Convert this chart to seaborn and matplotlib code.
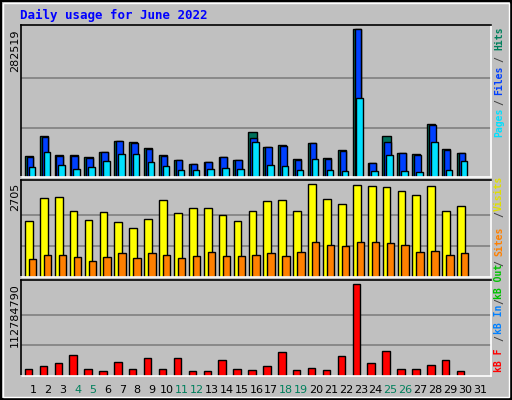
import numpy as np
import pandas as pd
import matplotlib
matplotlib.use("Agg")
import matplotlib.pyplot as plt
import seaborn as sns
from matplotlib.patches import Rectangle

sns.set_style("white")
plt.rcParams['font.family'] = ['DejaVu Sans Mono', 'DejaVu Sans']

days = list(range(1, 31))
day_labels = [str(d) for d in range(1, 32)]
weekend_days = [4, 5, 11, 12, 18, 19, 25, 26]

hits = [40900, 77340, 42830, 42830, 38990, 48580, 69670, 67750, 56250, 42830,
        33240, 25570, 29400, 38990, 33240, 85010, 58170, 62000, 35160, 65840,
        37070, 52410, 282519, 27490, 77340, 46660, 44740, 100350, 54330, 46660]
files = [38350, 75420, 40910, 40910, 37070, 48580, 69670, 65840, 54330, 40910,
         33240, 25570, 29400, 38990, 33240, 73510, 58170, 60080, 33240, 65840,
         35160, 50500, 282519, 27490, 67750, 46660, 42830, 98440, 52410, 46660]
pages = [19820, 48580, 23650, 15980, 19820, 31320, 44740, 44740, 29400, 21730,
         14060, 14060, 15980, 17900, 15980, 67750, 23650, 21730, 14060, 35160,
         14060, 12140, 150210, 12140, 42830, 12140, 10230, 67750, 14060, 31320]
visits = [1621, 2295, 2324, 1914, 1650, 1885, 1592, 1416, 1680, 2236,
          1855, 2002, 2002, 1797, 1621, 1914, 2207, 2236, 1914, 2705,
          2266, 2119, 2676, 2646, 2617, 2500, 2383, 2646, 1914, 2060]
sites = [537, 654, 654, 596, 478, 596, 684, 566, 684, 654,
         566, 625, 713, 625, 625, 654, 684, 625, 713, 1006,
         918, 889, 1006, 1006, 977, 918, 713, 742, 654, 684]
kbytes = [9.06e6, 12.76e6, 16.46e6, 26.34e6, 9.06e6, 6.59e6, 17.70e6, 9.06e6, 22.64e6, 9.06e6,
          22.64e6, 6.59e6, 6.59e6, 20.17e6, 9.06e6, 7.82e6, 12.76e6, 28.81e6, 7.82e6, 10.29e6,
          7.82e6, 25.11e6, 112784790, 16.46e6, 30.05e6, 9.06e6, 9.06e6, 14.00e6, 20.17e6, 6.59e6]

BG = "#c0c0c0"
fig = plt.figure(figsize=(5.12, 4.0), dpi=100, facecolor=BG)
W, H = 512, 400

def mkax(y0, y1):
    return fig.add_axes([21 / W, 1 - y1 / H, 470 / W, (y1 - y0) / H], facecolor=BG)

ax1 = mkax(25, 177)
ax2 = mkax(180, 277)
ax3 = mkax(280, 376)

def bars(ax, vals, off, width, color):
    df = pd.DataFrame({"x": np.array(days, float) + off, "y": vals})
    sns.barplot(data=df, x="x", y="y", native_scale=True, width=width, color=color,
                saturation=1, edgecolor="black", linewidth=1, errorbar=None, ax=ax)

bars(ax1, hits, -0.27, 0.55, "#006f5a")
bars(ax1, files, -0.2, 0.44, "#0040ff")
bars(ax1, pages, -0.07, 0.44, "#00e0ff")
bars(ax2, visits, -0.27, 0.52, "#ffff00")
bars(ax2, sites, -0.02, 0.5, "#ff8000")
bars(ax3, kbytes, -0.3, 0.5, "#ff0000")

for ax, mx, frac in [(ax1, max(hits), 152 / 148), (ax2, max(visits), 97 / 93), (ax3, max(kbytes), 96 / 92)]:
    ax.set_xlim(0.2, 31.74)
    ax.set_ylim(0, mx * frac)
    ax.set_yticks([mx / 3, 2 * mx / 3])
    ax.yaxis.grid(True, color="#808080", linewidth=1.2)
    ax.set_axisbelow(True)
    ax.set_yticklabels([])
    ax.tick_params(left=False, bottom=False, labelbottom=False)
    ax.set_xlabel(""); ax.set_ylabel("")
    ax.spines["left"].set_color("black"); ax.spines["top"].set_color("black")
    ax.spines["right"].set_color("white"); ax.spines["bottom"].set_color("white")
    for s in ax.spines.values():
        s.set_linewidth(1.2)

ax3.set_xticks(range(1, 32))
ax3.set_xticklabels(day_labels, family="DejaVu Sans", fontsize=8)
ax3.tick_params(labelbottom=True, pad=3)
for lab, d in zip(ax3.get_xticklabels(), range(1, 32)):
    lab.set_color("#00805c" if d in weekend_days else "black")

fig.text(20 / W, 1 - 15 / H, "Daily usage for June 2022", color="#0000ff",
         fontsize=9, fontweight="bold", va="center", ha="left")

for txt, y in [("282519", 29), ("2705", 183), ("112784790", 283)]:
    fig.text(15 / W, 1 - y / H, txt, rotation=90, va="top", ha="center",
             fontsize=8, family="DejaVu Sans", color="black")

right = [("Hits", "#00805c", 38), ("/", "#404040", 59), ("Files", "#0040ff", 80),
         ("/", "#404040", 102), ("Pages", "#00e0ff", 122),
         ("Visits", "#e0e000", 193), ("/", "#404040", 214), ("Sites", "#ff8000", 241),
         ("/", "#404040", 263), ("kB Out", "#00c000", 281), ("/", "#404040", 301),
         ("kB In", "#0080ff", 319), ("/", "#404040", 338), ("kB F", "#ff0000", 360)]
for txt, c, y in right:
    fig.text(499 / W, 1 - y / H, txt, rotation=90, va="center", ha="center",
             color=c, fontsize=7, fontweight="bold")

fig.patches.append(Rectangle((0, 0), 1, 1, transform=fig.transFigure, fill=False,
                             edgecolor="black", linewidth=3))
fig.patches.append(Rectangle((3 / W, 3 / H), 1 - 6 / W, 1 - 6 / H, transform=fig.transFigure,
                             fill=False, edgecolor="white", linewidth=1))
fig.savefig("out.png", dpi=100, facecolor=BG)
